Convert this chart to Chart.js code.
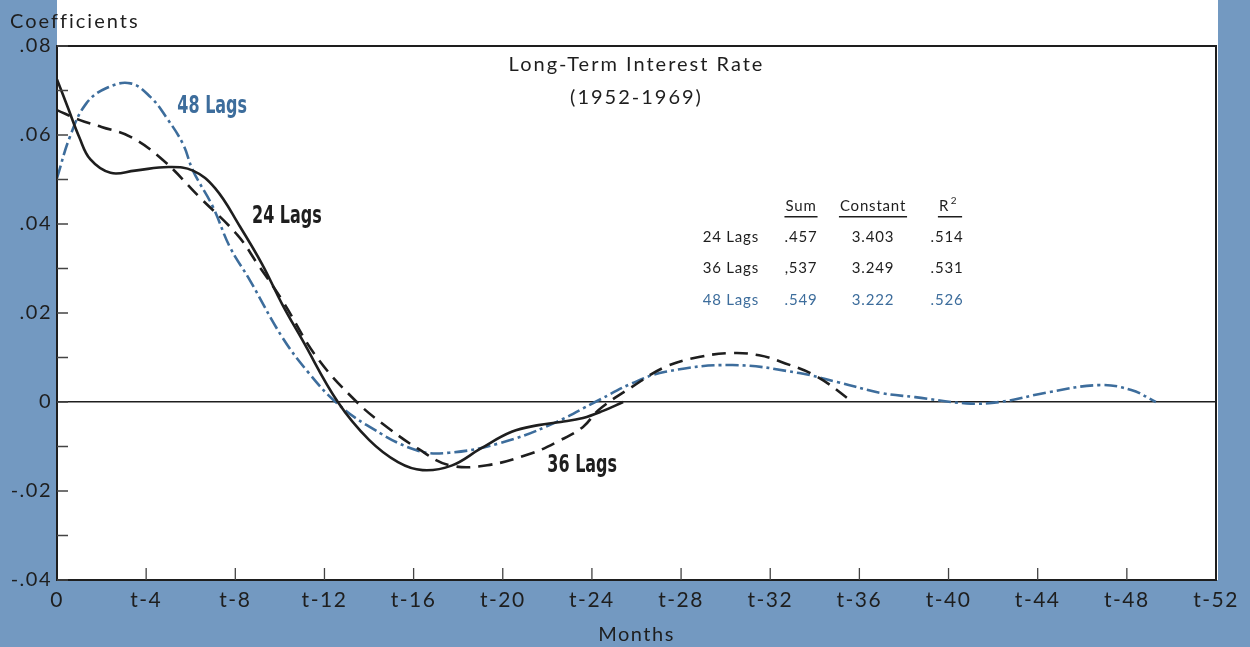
<!DOCTYPE html>
<html>
<head>
<meta charset="utf-8">
<script src="https://cdn.jsdelivr.net/npm/chart.js@4.4.1/dist/chart.umd.min.js"></script>
<style>
  html, body { margin: 0; padding: 0; background: #7399c1; }
  #wrap { width: 1250px; height: 647px; }
</style>
</head>
<body>
<div id="wrap"><canvas id="lagChart" width="1250" height="647"></canvas></div>
<script>
// lag coefficients (months back, coefficient)
const months24 = [0, 0.5, 1, 1.5, 2.4, 3.5, 5, 6.1, 7.1, 8.2, 9.2, 10.1, 11, 12.6, 14, 15.3, 16.4, 17.7, 19, 20.4, 21.6, 22.6, 23.6, 24.5, 25.4];
const coef24 = [0.0725, 0.066, 0.0595, 0.0545, 0.0515, 0.052, 0.0528, 0.052, 0.048, 0.0395, 0.031, 0.022, 0.014, 0, -0.0085, -0.0135, -0.0153, -0.0143, -0.0105, -0.0067, -0.0052, -0.0045, -0.0036, -0.002, 0];

const months36 = [0, 1, 2, 3.3, 4.75, 6.4, 8.1, 9, 10.1, 11.65, 13.45, 14.8, 16.2, 17.6, 19.3, 21.3, 22.5, 23.6, 24.3, 25.8, 27.3, 28.8, 30.3, 31.5, 32.5, 34.1, 35.7];
const coef36 = [0.0656, 0.0634, 0.0618, 0.0596, 0.0544, 0.046, 0.0375, 0.031, 0.0229, 0.0101, 0, -0.0056, -0.0105, -0.0142, -0.0142, -0.0115, -0.0088, -0.0056, -0.0018, 0.0034, 0.0079, 0.0101, 0.011, 0.0105, 0.009, 0.0057, 0];

const months48 = [0, 0.58, 1.3, 2.2, 3.3, 4.2, 4.9, 5.65, 6.1, 7.0, 7.75, 8.65, 10.1, 11.3, 12.5, 13.9, 16.1, 17.6, 19.9, 22.1, 24.3, 25.8, 27.3, 30.3, 33.3, 35, 37, 38.5, 40.8, 42.3, 44.5, 46.75, 48.2, 49.3];
const coef48 = [0.0503, 0.0596, 0.067, 0.0705, 0.0716, 0.0685, 0.064, 0.058, 0.052, 0.0438, 0.0349, 0.0274, 0.0146, 0.0065, 0, -0.0052, -0.0108, -0.0114, -0.0092, -0.0052, 0.0004, 0.0042, 0.0068, 0.0083, 0.0065, 0.0045, 0.002, 0.0011, -0.0003, 0, 0.0022, 0.0038, 0.0027, 0];

const xTickLabels = ['0', 't-4', 't-8', 't-12', 't-16', 't-20', 't-24', 't-28', 't-32', 't-36', 't-40', 't-44', 't-48', 't-52'];
const yTickValues = [0.08, 0.06, 0.04, 0.02, 0, -0.02, -0.04];
const yTickLabels = ['.08', '.06', '.04', '.02', '0', '-.02', '-.04'];

// regression summary table
const statRows = ['24 Lags', '36 Lags', '48 Lags'];
const statSum = ['.457', ',537', '.549'];
const statConst = ['3.403', '3.249', '3.222'];
const statR2 = ['.514', '.531', '.526'];

const INK = '#1e1e1e';
const BLUE = '#3d6d9c';
const FONT = 'Lato, "Open Sans", sans-serif';
const NARROW = '"Liberation Sans Narrow", "DejaVu Sans Condensed", "Liberation Sans", sans-serif';

function pts(xs, ys) {
  return xs.map((m, i) => ({ x: m, y: ys[i] }));
}

// curve labels, placed in data units (month, coefficient) at left edge / middle
const curveLabels = [
  { text: '48 Lags', m: 5.4, v: 0.0663, color: BLUE },
  { text: '24 Lags', m: 8.75, v: 0.0416, color: INK },
  { text: '36 Lags', m: 22.0, v: -0.0144, color: INK }
];

const decor = {
  id: 'decor',
  beforeDraw(chart) {
    const { ctx, chartArea: a } = chart;
    ctx.letterSpacing = '1.5px';
    ctx.save();
    ctx.fillStyle = '#fff';
    ctx.fillRect(a.left, 0, a.right - a.left + 2, a.bottom);
    ctx.restore();
  },
  afterDraw(chart) {
    const { ctx, chartArea: a, scales } = chart;
    ctx.save();
    ctx.strokeStyle = INK;
    ctx.lineWidth = 2;
    ctx.strokeRect(a.left, a.top, a.right - a.left, a.bottom - a.top);

    // inward tick marks
    ctx.lineWidth = 1.3;
    ctx.strokeStyle = '#444';
    ctx.beginPath();
    scales.y.ticks.forEach(t => {
      const py = scales.y.getPixelForValue(t.value);
      ctx.moveTo(a.left, py);
      ctx.lineTo(a.left + 11, py);
    });
    scales.x.ticks.forEach((t, i) => {
      if (i === 0 || i === scales.x.ticks.length - 1) return;
      const px = scales.x.getPixelForValue(t.value);
      ctx.moveTo(px, a.bottom);
      ctx.lineTo(px, a.bottom - 12);
    });
    ctx.stroke();

    // axis caption
    ctx.fillStyle = INK;
    ctx.letterSpacing = '2px';
    ctx.font = '20px ' + FONT;
    ctx.textAlign = 'left';
    ctx.textBaseline = 'middle';
    ctx.fillText('Coefficients', a.left - 47, 22);

    // title
    const cx = (a.left + a.right) / 2;
    ctx.textAlign = 'center';
    ctx.font = '20px ' + FONT;
    ctx.fillText('Long-Term Interest Rate', cx, a.top + 19);
    ctx.fillText('(1952-1969)', cx, a.top + 52);

    // curve labels, condensed
    ctx.letterSpacing = '0px';
    ctx.font = 'bold 24px ' + NARROW;
    ctx.textAlign = 'left';
    curveLabels.forEach(l => {
      ctx.save();
      ctx.fillStyle = l.color;
      ctx.translate(scales.x.getPixelForValue(l.m), scales.y.getPixelForValue(l.v));
      ctx.scale(0.74, 1);
      ctx.fillText(l.text, 0, 0);
      ctx.restore();
    });

    // summary table
    ctx.font = '15px ' + FONT;
    ctx.letterSpacing = '0.8px';
    const headY = a.top + 160;
    const heads = ['Sum', 'Constant', 'R'];
    const headX = [a.left + 744, a.left + 816, a.left + 887];
    ctx.fillStyle = INK;
    ctx.textAlign = 'center';
    heads.forEach((h, i) => {
      ctx.fillText(h, headX[i], headY);
      let w = ctx.measureText(h).width;
      if (i === 2) {
        ctx.font = '10px ' + FONT;
        ctx.fillText('2', headX[i] + 10, headY - 5);
        ctx.font = '15px ' + FONT;
        w += 12;
      }
      const x0 = headX[i] - ctx.measureText(h).width / 2 - 1;
      ctx.fillRect(x0, headY + 10, w + 2, 1.5);
    });
    statRows.forEach((r, i) => {
      const ry = headY + 31 + i * 31.5;
      ctx.fillStyle = i === 2 ? BLUE : INK;
      ctx.textAlign = 'right';
      ctx.fillText(r, a.left + 702, ry);
      ctx.textAlign = 'center';
      ctx.fillText(statSum[i], headX[0], ry);
      ctx.fillText(statConst[i], headX[1], ry);
      ctx.fillText(statR2[i], headX[2] + 3, ry);
    });
    ctx.restore();
  }
};

const ctx = document.getElementById('lagChart').getContext('2d');
const lagChart = new Chart(ctx, {
  type: 'line',
  data: {
    datasets: [
      {
        label: '24 Lags',
        data: pts(months24, coef24),
        borderColor: INK,
        borderWidth: 2.6,
        pointRadius: 0,
        tension: 0.4
      },
      {
        label: '36 Lags',
        data: pts(months36, coef36),
        borderColor: INK,
        borderWidth: 2.6,
        borderDash: [14, 8],
        pointRadius: 0,
        tension: 0.4
      },
      {
        label: '48 Lags',
        data: pts(months48, coef48),
        borderColor: BLUE,
        borderWidth: 2.6,
        borderDash: [13, 4, 3, 4],
        pointRadius: 0,
        tension: 0.4
      }
    ]
  },
  options: {
    responsive: false,
    animation: false,
    layout: { padding: { top: 46, right: 34, left: 0, bottom: 0 } },
    plugins: {
      legend: { display: false },
      tooltip: { enabled: false }
    },
    scales: {
      x: {
        type: 'linear',
        min: 0,
        max: 52,
        afterFit: s => { s.height = 67; },
        ticks: {
          stepSize: 4,
          color: INK,
          padding: 8,
          maxRotation: 0,
          font: { family: FONT, size: 21 },
          callback: (v) => xTickLabels[Math.round(v / 4)]
        },
        grid: { display: false, drawTicks: false },
        border: { display: true, color: INK, width: 2 },
        title: {
          display: true,
          text: 'Months',
          color: INK,
          font: { family: FONT, size: 20 },
          padding: { top: 0, bottom: 0 }
        }
      },
      y: {
        min: -0.04,
        max: 0.08,
        afterFit: s => { s.width = 57; },
        ticks: {
          stepSize: 0.01,
          color: INK,
          padding: 5,
          font: { family: FONT, size: 20 },
          callback: (v) => {
            const i = yTickValues.findIndex(t => Math.abs(t - v) < 1e-6);
            return i >= 0 ? yTickLabels[i] : '';
          }
        },
        grid: {
          drawTicks: false,
          color: c => (Math.abs(c.tick.value) < 1e-9 ? INK : 'rgba(0,0,0,0)'),
          lineWidth: c => (Math.abs(c.tick.value) < 1e-9 ? 1.6 : 0)
        },
        border: { display: true, color: INK, width: 2 }
      }
    }
  },
  plugins: [decor]
});
</script>
</body>
</html>
